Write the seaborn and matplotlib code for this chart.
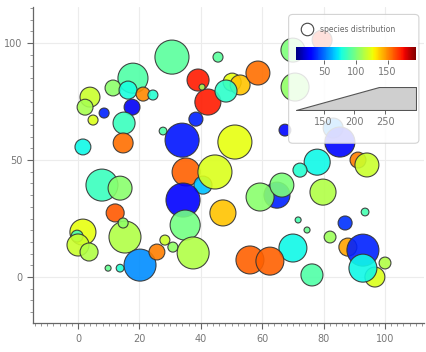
import numpy as np
import pandas as pd
import matplotlib
matplotlib.use("Agg")
import matplotlib.pyplot as plt
from matplotlib.ticker import MultipleLocator
from matplotlib.patches import FancyBboxPatch
import seaborn as sns

sns.set_style("whitegrid")
plt.rcParams['font.family'] = ['DejaVu Sans']

# bubble positions
x = [17.9, 11.4, 16.3, 21.2, 24.4, 17.6, 3.9, 2.3, 8.5, 4.9, 15.0, 14.7, 1.6, 27.7,
     30.6, 45.6, 39.1, 42.3, 40.4, 50.2, 52.8, 48.2, 58.6, 38.4, 33.9, 51.1,
     70.0, 79.5, 70.7, 67.4, 83.1, 85.3,
     77.9, 72.3, 91.2, 94.1, 64.8, 59.3, 66.4, 79.8, 71.7, 74.6, 93.5, 87.0, 82.1,
     87.9, 92.8, 100.0, 96.7, 92.8, 70.0, 76.2, 56.0, 62.5,
     7.8, 13.7, 12.1, 15.3, 14.7, 1.6, -0.3, 0.0, 3.6, 20.2, 9.8, 13.7, 25.7, 28.3, 30.9,
     35.2, 40.7, 44.6, 34.2, 34.9, 37.5, 47.2]
y = [85.0, 80.8, 79.9, 78.2, 77.8, 72.6, 76.9, 72.6, 70.1, 67.1, 65.8, 57.3, 55.6, 62.4,
     94.0, 94.0, 84.2, 74.8, 81.2, 83.3, 82.1, 79.5, 87.2, 67.5, 58.5, 57.7,
     97.0, 101.3, 81.2, 62.8, 63.7, 57.7,
     49.1, 45.7, 50.0, 47.9, 35.0, 34.2, 39.3, 36.3, 24.4, 20.1, 27.8, 23.1, 17.1,
     12.8, 11.5, 6.0, 0.0, 3.8, 12.4, 0.9, 7.3, 6.8,
     39.3, 38.0, 27.4, 17.1, 23.1, 19.2, 17.5, 13.7, 10.7, 5.1, 3.8, 3.8, 10.7, 15.8, 12.8,
     44.9, 39.3, 44.9, 32.9, 22.2, 10.3, 27.4]
size = [213, 132, 141, 125, 113, 132, 150, 132, 113, 113, 161, 150, 132, 108,
        245, 113, 161, 185, 105, 141, 150, 161, 172, 125, 245, 245,
        172, 150, 198, 118, 150, 213,
        185, 125, 132, 172, 185, 198, 172, 185, 105, 105, 108, 125, 118,
        141, 228, 118, 150, 198, 198, 161, 198, 198,
        228, 172, 141, 228, 113, 185, 118, 161, 141, 228, 103, 108, 132, 113, 113,
        198, 141, 245, 245, 213, 228, 185]
species = [90, 104, 77, 150, 80, 25, 118, 110, 35, 122, 85, 155, 75, 90,
           92, 92, 172, 172, 108, 125, 138, 82, 155, 35, 33, 125,
           100, 170, 105, 30, 55, 30,
           75, 80, 152, 118, 35, 103, 100, 112, 88, 95, 88, 38, 108,
           145, 35, 112, 122, 75, 75, 90, 158, 158,
           85, 103, 160, 112, 105, 125, 88, 118, 112, 55, 95, 80, 152, 118, 105,
           158, 65, 122, 28, 98, 112, 138]

df = pd.DataFrame({'x': x, 'y': y, 'size': size, 'species': species})
jet = matplotlib.colormaps['jet']

fig = plt.figure(figsize=(4.27, 3.52), dpi=100)
ax = fig.add_axes([0.077, 0.082, 0.916, 0.898])

sns.scatterplot(data=df, x='x', y='y', hue='species', size='size',
                palette=jet, hue_norm=(5, 195), sizes=(18.7, 830), size_norm=(105, 300),
                edgecolor='#333333', linewidth=0.8, alpha=0.9, legend=False, ax=ax)

ax.set_xlim(-14.7, 112.7)
ax.set_ylim(-19.7, 115.4)
ax.set_xticks([0, 20, 40, 60, 80, 100])
ax.set_yticks([0, 50, 100])
ax.xaxis.set_minor_locator(MultipleLocator(2))
ax.yaxis.set_minor_locator(MultipleLocator(5))
ax.set_xlabel('')
ax.set_ylabel('')
ax.grid(True, which='major', color='#ececec', linewidth=0.8)
ax.grid(False, which='minor')
for s in ['top', 'right']:
    ax.spines[s].set_visible(False)
for s in ['left', 'bottom']:
    ax.spines[s].set_color('#666666')
    ax.spines[s].set_linewidth(0.9)
ax.tick_params(which='major', direction='out', length=4, width=0.8, color='#666666',
               labelcolor='#777777', labelsize=7, left=True, bottom=True)
ax.tick_params(which='minor', direction='out', length=2, width=0.6, color='#888888',
               left=True, bottom=True)

# legend box
box = FancyBboxPatch((0.676, 0.593), 0.305, 0.366, boxstyle='round,pad=0,rounding_size=0.01',
                     transform=fig.transFigure, facecolor='white', edgecolor='#cccccc',
                     alpha=0.85, linewidth=0.8, zorder=5)
fig.patches.append(box)
fig.lines.append(plt.Line2D([307 / 427], [1 - 29 / 352], marker='o', markersize=9,
                            markerfacecolor='white', markeredgecolor='#444444',
                            markeredgewidth=0.8, transform=fig.transFigure, zorder=6))
fig.text(320 / 427, 1 - 29 / 352, 'species distribution', fontsize=5.5, color='#666666',
         va='center', ha='left', zorder=6)

cax = fig.add_axes([296 / 427, 1 - 60 / 352, 120 / 427, 13 / 352], zorder=6)
sm = plt.cm.ScalarMappable(norm=plt.Normalize(5, 195), cmap=jet)
cb = fig.colorbar(sm, cax=cax, orientation='horizontal')
cb.outline.set_visible(False)
cb.set_ticks([50, 100, 150])
cax.tick_params(length=3, width=0.7, color='#666666', labelcolor='#777777', labelsize=7, pad=2)

sax = fig.add_axes([296 / 427, 1 - 110 / 352, 120 / 427, 23 / 352], zorder=6)
sax.fill_between([105, 240, 300], 0, [0, 1, 1], color='#cfcfcf', edgecolor='#555555', linewidth=0.8)
sax.set_xlim(105, 300)
sax.set_ylim(0, 1)
sax.set_facecolor('none')
sax.grid(False)
for s in sax.spines.values():
    s.set_visible(False)
sax.set_xticks([150, 200, 250])
sax.set_yticks([])
sax.tick_params(axis='x', length=3, width=0.7, color='#666666', labelcolor='#777777',
                labelsize=7, pad=2, bottom=True)

fig.savefig('out.png', dpi=100)
